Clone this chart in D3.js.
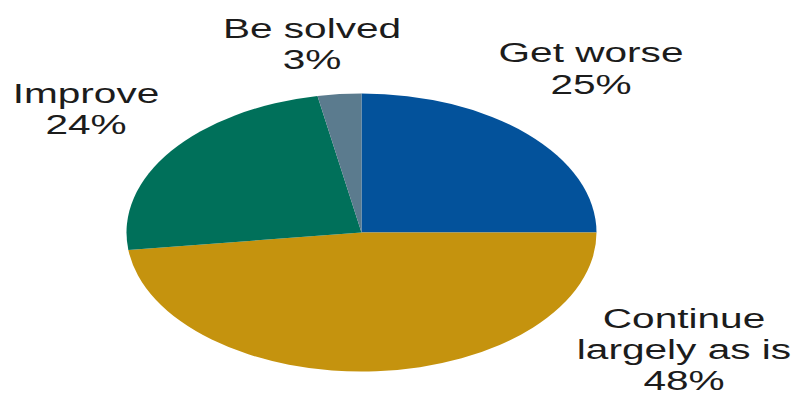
<!DOCTYPE html>
<html lang="en">
<head>
    <meta charset="UTF-8">
    <title>Outlook pie</title>
    <script src="https://d3js.org/d3.v7.min.js"></script>
    <style>
        body {
            margin: 0;
            background: #ffffff;
        }
        svg {
            display: block;
        }
        .label text {
            font-family: "Liberation Sans", Arial, sans-serif;
            font-size: 28px;
            fill: #1c1c1c;
        }
    </style>
</head>
<body>
    <svg id="chart" width="797" height="396"></svg>

    <script>
        // data
        const categories = ["Get worse", "Continue largely as is", "Improve", "Be solved"];
        const values = [25, 48, 24, 3];
        const labelLines = [
            ["Get worse", "25%"],
            ["Continue", "largely as is", "48%"],
            ["Improve", "24%"],
            ["Be solved", "3%"]
        ];

        // layout
        const cx = 361.5, cy = 232.5;
        const rx = 235, ry = 139;
        const colors = ["#03529b", "#c5930e", "#00705a", "#5b7b8e"];
        const labelPos = [
            { x: 591, y: 62, gap: 32 },
            { x: 684, y: 328, gap: 31 },
            { x: 86, y: 103, gap: 31 },
            { x: 312, y: 38, gap: 31 }
        ];
        const stretchX = 1.45;

        const svg = d3.select("#chart");

        const pie = d3.pie().sort(null).value(d => d);
        const arc = d3.arc().innerRadius(0).outerRadius(ry);

        // the pie is drawn as a circle and stretched into an ellipse
        const pieG = svg.append("g")
            .attr("transform", `translate(${cx},${cy}) scale(${rx / ry},1)`);

        pieG.selectAll("path")
            .data(pie(values))
            .enter()
            .append("path")
            .attr("d", arc)
            .attr("fill", (d, i) => colors[i]);

        // labels, stretched the same way as the picture
        const labels = svg.selectAll(".label")
            .data(categories)
            .enter()
            .append("g")
            .attr("class", "label")
            .attr("transform", (d, i) => `translate(${labelPos[i].x},${labelPos[i].y}) scale(${stretchX},1)`);

        labels.each(function (d, i) {
            const g = d3.select(this);
            labelLines[i].forEach((line, j) => {
                g.append("text")
                    .attr("x", 0)
                    .attr("y", j * labelPos[i].gap)
                    .attr("text-anchor", "middle")
                    .text(line);
            });
        });
    </script>
</body>
</html>
